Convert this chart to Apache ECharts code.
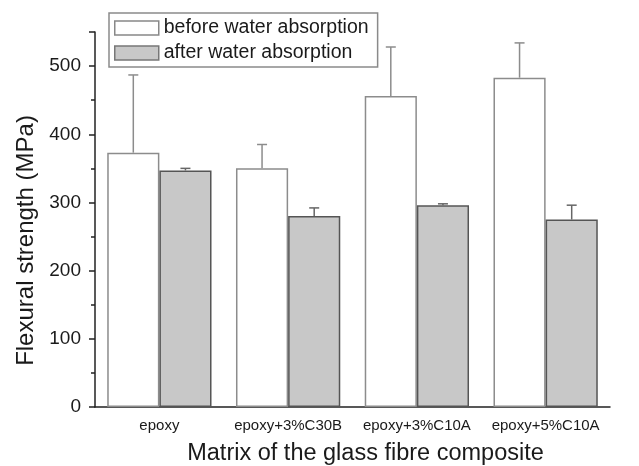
<!DOCTYPE html>
<html><head><meta charset="utf-8">
<script src="https://cdn.jsdelivr.net/npm/echarts@6/dist/echarts.min.js"></script>
<style>html,body{margin:0;padding:0;background:#fff}#c{width:639px;height:466px}</style>
</head><body><div id="c"></div>
<script>
var categories = ['epoxy', 'epoxy+3%C30B', 'epoxy+3%C10A', 'epoxy+5%C10A'];
var beforeValues = [373, 350, 456, 483];
var afterValues = [347, 280, 296, 275];
var beforeErrors = [114, 35, 72, 51];
var afterErrors = [3, 12, 2, 21];
var yTicks = [0, 100, 200, 300, 400, 500];

var FONT = 'Liberation Sans, Arial, sans-serif';
var chart = echarts.init(document.getElementById('c'), null, {renderer: 'canvas'});

function errSeries(vals, errs, side, color) {
  return {
    type: 'custom',
    xAxisIndex: 0,
    z: 1,
    silent: true,
    data: vals.map(function (v, i) { return [i, v, v + errs[i]]; }),
    renderItem: function (params, api) {
      var i = api.value(0);
      var base = api.coord([i, api.value(1)]);
      var top = api.coord([i, api.value(2)]);
      var catW = api.size([1, 0])[0];
      var bw = catW * 0.81 / 2;
      var x = base[0] + side * bw / 2;
      var cap = 5;
      return {
        type: 'group',
        children: [
          {type: 'line', shape: {x1: x, y1: base[1], x2: x, y2: top[1]}, style: {stroke: color, lineWidth: 1.5}},
          {type: 'line', shape: {x1: x - cap, y1: top[1], x2: x + cap, y2: top[1]}, style: {stroke: color, lineWidth: 1.5}}
        ]
      };
    },
    encode: {x: 0, y: [1, 2]}
  };
}

chart.setOption({
  animation: false,
  textStyle: {fontFamily: FONT},
  grid: {left: 95, right: 29, top: 32, bottom: 59, containLabel: false, outerBoundsMode: 'none'},
  legend: {
    orient: 'vertical',
    left: 109, top: 13,
    padding: [5, 9, 4, 5],
    itemGap: 5,
    icon: 'rect',
    itemWidth: 44, itemHeight: 14,
    borderColor: '#8a8a8a', borderWidth: 1.5,
    textStyle: {fontFamily: FONT, fontSize: 19.5, color: '#1a1a1a'},
    data: [
      {name: 'before water absorption', itemStyle: {color: '#fff', borderColor: '#888', borderWidth: 1.5}},
      {name: 'after water absorption', itemStyle: {color: '#c8c8c8', borderColor: '#777', borderWidth: 1.5}}
    ]
  },
  xAxis: [{
    type: 'category',
    data: categories,
    name: 'Matrix of the glass fibre composite',
    nameLocation: 'middle',
    nameGap: 35,
    nameTextStyle: {fontFamily: FONT, fontSize: 23.5, color: '#1a1a1a', padding: [0, 0, 0, 26]},
    axisLine: {lineStyle: {color: '#222', width: 1.5}},
    axisTick: {alignWithLabel: true, length: 6, lineStyle: {color: '#222', width: 1.5}},
    axisLabel: {interval: 0, fontFamily: FONT, fontSize: 15, color: '#1a1a1a', margin: 11},
    splitLine: {show: false}
  }, {
    type: 'category',
    data: categories,
    position: 'bottom',
    axisLine: {show: false},
    axisTick: {length: 4, lineStyle: {color: '#222', width: 1.5}},
    axisLabel: {show: false},
    splitLine: {show: false}
  }],
  yAxis: {
    type: 'value',
    min: 0, max: 550, interval: 100,
    name: 'Flexural strength (MPa)',
    nameLocation: 'middle',
    nameGap: 56,
    nameTextStyle: {fontFamily: FONT, fontSize: 24, color: '#1a1a1a', padding: [0, 42, 0, 0]},
    axisLine: {show: true, lineStyle: {color: '#222', width: 1.5}},
    axisTick: {show: true, length: 6, lineStyle: {color: '#222', width: 1.5}},
    minorTick: {show: true, splitNumber: 2, length: 4, lineStyle: {color: '#222', width: 1.5}},
    axisLabel: {fontFamily: FONT, fontSize: 19, color: '#1a1a1a', margin: 14,
      formatter: function (v) { return yTicks.indexOf(v) >= 0 ? String(v) : ''; }},
    splitLine: {show: false}
  },
  series: [
    {name: 'before water absorption', type: 'bar', data: beforeValues, barGap: '0%', barCategoryGap: '19%',
      z: 2, itemStyle: {color: '#fff', borderColor: '#8c8c8c', borderWidth: 1.5}},
    {name: 'after water absorption', type: 'bar', data: afterValues, barGap: '0%', barCategoryGap: '19%',
      z: 2, itemStyle: {color: '#c8c8c8', borderColor: '#555', borderWidth: 1.5}},
    errSeries(beforeValues, beforeErrors, -1, '#8c8c8c'),
    errSeries(afterValues, afterErrors, 1, '#666')
  ]
});
</script></body></html>
